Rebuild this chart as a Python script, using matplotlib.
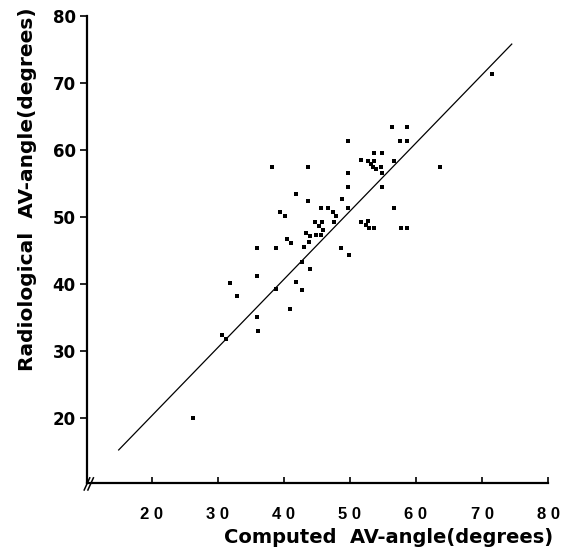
import matplotlib
matplotlib.use('Agg')
import matplotlib.pyplot as plt

# computed vs radiological AV-angle
computed = [26.2, 30.6, 31.2, 31.9, 32.9, 35.9, 36.0, 36.0, 36.1, 38.2,
            38.8, 38.8, 39.4, 40.2, 40.5, 40.9, 41.1, 41.8, 41.8, 42.7,
            42.8, 43.0, 43.4, 43.6, 43.7, 43.8, 43.9, 44.0, 44.7, 44.8,
            45.3, 45.7, 45.7, 45.8, 45.9, 46.7, 47.5, 47.6, 47.9, 48.7,
            48.8, 49.7, 49.7, 49.7, 49.7, 49.8, 51.7, 51.7, 52.5, 52.7,
            52.7, 52.9, 53.2, 53.5, 53.6, 53.6, 53.6, 54.0, 54.7, 54.8,
            54.8, 54.9, 56.4, 56.6, 56.7, 57.6, 57.7, 58.6, 58.6, 58.7,
            63.6, 71.5]
radiological = [20.0, 32.3, 31.8, 40.2, 38.2, 45.3, 41.2, 35.0, 33.0, 57.5,
                39.3, 45.3, 50.7, 50.1, 46.7, 36.2, 46.1, 53.4, 40.3, 43.2,
                39.1, 45.5, 47.6, 57.4, 52.4, 46.3, 47.1, 42.2, 49.3, 47.3,
                48.6, 51.3, 47.3, 49.3, 48.1, 51.3, 50.8, 49.3, 50.1, 45.4,
                52.7, 61.4, 56.5, 54.4, 51.4, 44.3, 58.5, 49.3, 48.8, 58.4,
                49.4, 48.3, 57.9, 57.4, 48.3, 59.5, 58.4, 57.1, 57.4, 56.5,
                54.4, 59.5, 63.4, 58.4, 51.4, 61.4, 48.3, 63.4, 61.4, 48.3,
                57.5, 71.4]

line_x = [15.0, 74.5]
line_y = [15.2, 75.8]

ticks = [20, 30, 40, 50, 60, 70, 80]

plt.rcParams['font.family'] = ['Liberation Sans', 'DejaVu Sans']

fig = plt.figure(figsize=(5.61, 5.5), dpi=100)
ax = fig.add_axes([0.155, 0.121, 0.822, 0.85])

ax.scatter(computed, radiological, s=11, marker='s', color='black', linewidths=0)
ax.plot(line_x, line_y, color='black', lw=0.9)

ax.set_xlim(10.2, 80)
ax.set_ylim(10.2, 80)
ax.set_xticks(ticks)
ax.set_yticks(ticks)
ax.set_xticklabels([' '.join(str(t)) for t in ticks], fontsize=12, fontweight='bold')
ax.set_yticklabels([str(t) for t in ticks], fontsize=12, fontweight='bold',
                   family='DejaVu Sans')
ax.tick_params(axis='x', direction='in', length=4, width=1.2, pad=17)
ax.tick_params(axis='y', direction='out', length=5, width=1.2, pad=3)

for side in ['top', 'right']:
    ax.spines[side].set_visible(False)
for side in ['left', 'bottom']:
    ax.spines[side].set_linewidth(1.6)

# axis break mark at the corner
for dx in [0, 0.008]:
    ax.plot([-0.006 + dx, 0.006 + dx], [-0.014, 0.012], transform=ax.transAxes,
            color='black', lw=1.1, clip_on=False)

ax.set_xlabel('Computed  AV-angle(degrees)', fontsize=14, fontweight='bold',
              family='DejaVu Sans', labelpad=4, x=0.655)
ax.set_ylabel('Radiological  AV-angle(degrees)', fontsize=14.5, fontweight='bold',
              family='DejaVu Sans', labelpad=11, y=0.63)

fig.savefig('out.png', dpi=100)
